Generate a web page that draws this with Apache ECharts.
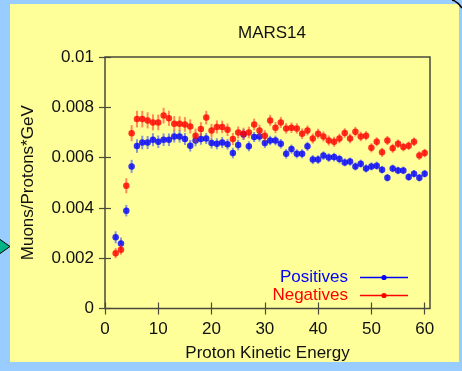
<!DOCTYPE html>
<html>
<head>
<meta charset="utf-8">
<script src="https://cdn.jsdelivr.net/npm/echarts@6/dist/echarts.min.js"></script>
<style>
  html, body { margin: 0; padding: 0; background: #99ccff; }
  #chart { width: 462px; height: 371px; }
</style>
</head>
<body>
<div id="chart"></div>
<script>
// Proton kinetic energy bins (GeV)
const energies = [2, 3, 4, 5, 6, 7, 8, 9, 10, 11, 12, 13, 14, 15, 16, 17, 18, 19, 20,
  21, 22, 23, 24, 25, 26, 27, 28, 29, 30, 31, 32, 33, 34, 35, 36, 37, 38, 39, 40,
  41, 42, 43, 44, 45, 46, 47, 48, 49, 50, 51, 52, 53, 54, 55, 56, 57, 58, 59, 60];

// Muon yield per proton per GeV, positive muons
const positives = [0.00283, 0.00258, 0.00389, 0.00565, 0.00646, 0.00660, 0.00660, 0.00671, 0.00663, 0.00671,
  0.00671, 0.00684, 0.00684, 0.00674, 0.00647, 0.00668, 0.00674, 0.00676, 0.00658,
  0.00655, 0.00660, 0.00653, 0.00618, 0.00650, 0.00692, 0.00645, 0.00682, 0.00684, 0.00658,
  0.00668, 0.00668, 0.00655, 0.00615, 0.00634, 0.00615, 0.00615, 0.00645, 0.00592, 0.00592,
  0.00608, 0.00600, 0.00602, 0.00594, 0.00581, 0.00584, 0.00565, 0.00576, 0.00557, 0.00565,
  0.00568, 0.00552, 0.00520, 0.00557, 0.00549, 0.00549, 0.00523, 0.00536, 0.00520, 0.00536];
const positivesErr = [0.00024, 0.00024, 0.00023, 0.00026, 0.00027, 0.00027, 0.00026, 0.00026, 0.00025, 0.00025,
  0.00025, 0.00024, 0.00024, 0.00024, 0.00023, 0.00023, 0.00023, 0.00022, 0.00022,
  0.00022, 0.00022, 0.00021, 0.00021, 0.00021, 0.00021, 0.00020, 0.00020, 0.00020, 0.00020,
  0.00019, 0.00019, 0.00019, 0.00019, 0.00018, 0.00018, 0.00018, 0.00018, 0.00018, 0.00017,
  0.00017, 0.00017, 0.00017, 0.00017, 0.00016, 0.00016, 0.00016, 0.00016, 0.00016, 0.00016,
  0.00016, 0.00015, 0.00015, 0.00015, 0.00015, 0.00015, 0.00015, 0.00015, 0.00015, 0.00015];

// Muon yield per proton per GeV, negative muons
const negatives = [0.00220, 0.00234, 0.00488, 0.00697, 0.00753, 0.00753, 0.00748, 0.00740, 0.00740, 0.00767,
  0.00756, 0.00735, 0.00735, 0.00732, 0.00724, 0.00687, 0.00714, 0.00759, 0.00708,
  0.00722, 0.00722, 0.00711, 0.00674, 0.00700, 0.00695, 0.00700, 0.00732, 0.00708, 0.00687,
  0.00748, 0.00719, 0.00740, 0.00716, 0.00719, 0.00716, 0.00695, 0.00708, 0.00676, 0.00695,
  0.00684, 0.00668, 0.00663, 0.00676, 0.00698, 0.00676, 0.00703, 0.00684, 0.00687, 0.00639,
  0.00663, 0.00621, 0.00668, 0.00637, 0.00655, 0.00642, 0.00647, 0.00663, 0.00608, 0.00618];
const negativesErr = [0.00020, 0.00020, 0.00030, 0.00032, 0.00033, 0.00033, 0.00032, 0.00032, 0.00031, 0.00031,
  0.00030, 0.00030, 0.00029, 0.00029, 0.00028, 0.00028, 0.00027, 0.00027, 0.00026,
  0.00026, 0.00025, 0.00025, 0.00024, 0.00024, 0.00024, 0.00023, 0.00023, 0.00023, 0.00022,
  0.00022, 0.00022, 0.00022, 0.00021, 0.00021, 0.00021, 0.00021, 0.00020, 0.00020, 0.00020,
  0.00020, 0.00020, 0.00020, 0.00019, 0.00019, 0.00019, 0.00019, 0.00019, 0.00018, 0.00018,
  0.00018, 0.00018, 0.00018, 0.00018, 0.00017, 0.00017, 0.00017, 0.00017, 0.00017, 0.00017];

const xTicks = [0, 10, 20, 30, 40, 50, 60];
const yTicks = [0, 0.002, 0.004, 0.006, 0.008, 0.01];

const FONT = '"Liberation Sans", Arial, Helvetica, sans-serif';
const FRAME = '#4a4a3c';
const BLUE = '#0000ff';
const RED = '#ff0000';

function points(vals) { return energies.map((e, i) => [e, vals[i]]); }
function bars(vals, errs) { return energies.map((e, i) => [e, vals[i], errs[i]]); }

function errorBarRenderer(color) {
  return function (params, api) {
    const x = api.value(0), v = api.value(1), e = api.value(2);
    const lo = api.coord([x, v - e]);
    const hi = api.coord([x, v + e]);
    return {
      type: 'line',
      shape: { x1: lo[0], y1: lo[1], x2: hi[0], y2: hi[1] },
      style: { stroke: color, lineWidth: 2 }
    };
  };
}

const chart = echarts.init(document.getElementById('chart'), null, { renderer: 'canvas' });

const tickLine = { color: FRAME, width: 1.2 };
const xTick = { show: true, inside: true, length: 6, lineStyle: tickLine, customValues: xTicks };
const yTick = { show: true, inside: true, length: 6, lineStyle: tickLine, customValues: yTicks };

chart.setOption({
  backgroundColor: '#99ccff',
  animation: false,
  title: {
    text: 'MARS14',
    left: 267,
    top: 20,
    textAlign: 'center',
    textStyle: { fontFamily: FONT, fontSize: 17, fontWeight: 'normal', color: '#111' }
  },
  grid: {
    left: 105, right: 32, top: 57, bottom: 62.5,
    show: true, borderColor: FRAME, borderWidth: 1.5, backgroundColor: 'transparent',
    containLabel: false
  },
  xAxis: [{
    type: 'value', min: 0, max: 61,
    name: 'Proton Kinetic Energy', nameLocation: 'middle', nameGap: 36,
    nameTextStyle: { fontFamily: FONT, fontSize: 17, color: '#111' },
    axisLine: { show: false }, axisTick: xTick, splitLine: { show: false },
    axisLabel: { fontFamily: FONT, fontSize: 17, color: '#111', margin: 12, customValues: xTicks }
  }, {
    type: 'value', position: 'top', min: 0, max: 61,
    axisLine: { show: false }, axisTick: xTick, splitLine: { show: false },
    axisLabel: { show: false, customValues: xTicks }
  }],
  yAxis: [{
    type: 'value', min: 0, max: 0.01, interval: 0.002,
    name: 'Muons/Protons*GeV', nameLocation: 'middle', nameGap: 68,
    nameTextStyle: { fontFamily: FONT, fontSize: 17, color: '#111' },
    axisLine: { show: false }, axisTick: yTick, splitLine: { show: false },
    axisLabel: { fontFamily: FONT, fontSize: 17, color: '#111', margin: 11, customValues: yTicks }
  }, {
    type: 'value', position: 'right', min: 0, max: 0.01, interval: 0.002,
    axisLine: { show: false }, axisTick: yTick, splitLine: { show: false },
    axisLabel: { show: false, customValues: yTicks }
  }],
  series: [
    {
      name: 'Positives errors', type: 'custom', renderItem: errorBarRenderer('rgba(40,60,255,0.55)'),
      data: bars(positives, positivesErr), z: 2
    },
    {
      name: 'Positives', type: 'scatter', symbol: 'circle', symbolSize: 6.5,
      itemStyle: { color: BLUE }, data: points(positives), z: 3
    },
    {
      name: 'Negatives errors', type: 'custom', renderItem: errorBarRenderer('rgba(255,40,40,0.55)'),
      data: bars(negatives, negativesErr), z: 4
    },
    {
      name: 'Negatives', type: 'scatter', symbol: 'circle', symbolSize: 6.5,
      itemStyle: { color: RED }, data: points(negatives), z: 5
    }
  ],
  graphic: [
    // yellow slide panel behind the plot
    { type: 'rect', z: -10, shape: { x: 10, y: 4, width: 449, height: 358 }, style: { fill: '#ffff99' } },
    // folded page corner
    { type: 'bezierCurve', z: -9,
      shape: { x1: 452, y1: 0, x2: 462, y2: 8, cpx1: 457, cpy1: 1 },
      style: { stroke: '#000', lineWidth: 1.5, fill: null } },
    // navigation arrow on the left margin
    { type: 'polygon', z: -9,
      shape: { points: [[-2, 238], [10, 246.5], [-2, 255]] },
      style: { fill: '#00b386', stroke: '#000', lineWidth: 1 } },
    // key
    { type: 'text', x: 348, y: 277, z: 10,
      style: { text: 'Positives', fill: BLUE, font: '17px ' + FONT, align: 'right', verticalAlign: 'middle' } },
    { type: 'line', z: 10, shape: { x1: 360, y1: 277.5, x2: 408, y2: 277.5 },
      style: { stroke: BLUE, lineWidth: 1.3 } },
    { type: 'circle', z: 10, shape: { cx: 384, cy: 277.5, r: 2.6 }, style: { fill: BLUE } },
    { type: 'text', x: 348, y: 295, z: 10,
      style: { text: 'Negatives', fill: RED, font: '17px ' + FONT, align: 'right', verticalAlign: 'middle' } },
    { type: 'line', z: 10, shape: { x1: 360, y1: 295.5, x2: 408, y2: 295.5 },
      style: { stroke: RED, lineWidth: 1.3 } },
    { type: 'circle', z: 10, shape: { cx: 384, cy: 295.5, r: 2.6 }, style: { fill: RED } }
  ]
});
</script>
</body>
</html>
